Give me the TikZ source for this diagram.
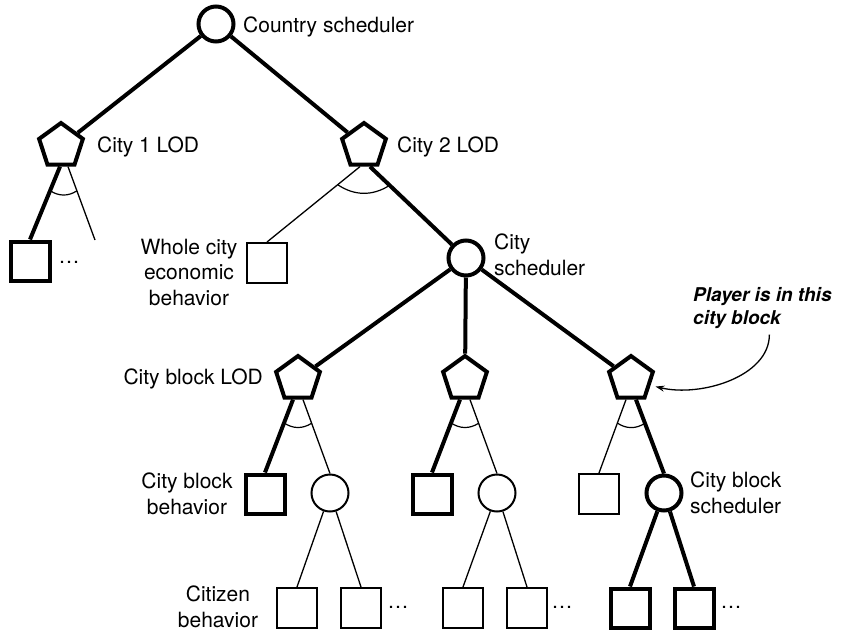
\documentclass[tikz,border=0pt]{standalone}
\usepackage{fontspec}
\setmainfont{TeX Gyre Heros}
\usetikzlibrary{shapes.geometric,arrows.meta,calc}
\begin{document}
\begin{tikzpicture}[x=1pt,y=-1pt,
  thickl/.style={line width=4pt},
  thinl/.style={line width=1.3pt},
  arcl/.style={line width=1.2pt},
  pent/.style={draw,line width=4pt,regular polygon,regular polygon sides=5,minimum size=46pt,inner sep=0pt},
  circ/.style={draw,circle,line width=4pt,minimum size=35pt,inner sep=0pt},
  circthin/.style={draw,circle,line width=2pt,minimum size=37pt,inner sep=0pt},
  sq/.style={draw,rectangle,line width=4pt,minimum size=39pt,inner sep=0pt},
  sqthin/.style={draw,rectangle,line width=2pt,minimum size=40pt,inner sep=0pt},
  lbl/.style={font=\fontsize{21}{25.5}\selectfont,inner sep=0pt,align=center},
  dotsl/.style={font=\fontsize{21}{25}\selectfont,inner sep=0pt},
  note/.style={font=\fontsize{19}{23}\selectfont\bfseries\itshape,inner sep=0pt,align=left},
]
\useasboundingbox (0,0) rectangle (855,633);

% nodes
\node[circ] (cs) at (216,24) {};
\node[pent] (c1) at (61,146) {};
\node[pent] (c2) at (364,146) {};
\node[sq] (s1) at (30,261) {};
\coordinate (f1) at (95,240);
\node[sqthin] (wc) at (267,263) {};
\node[circ] (sch) at (466,258) {};
\node[pent] (b1) at (298,379) {};
\node[pent] (b2) at (465,379) {};
\node[pent] (b3) at (631,379) {};
\node[sq] (q1) at (265,494) {};
\node[circthin] (o1) at (330,493) {};
\node[sq] (q2) at (432,494) {};
\node[circthin] (o2) at (497,493) {};
\node[sqthin] (q3) at (599,494) {};
\node[circ] (o3) at (664,493) {};
\node[sqthin] (r1) at (297,608) {};
\node[sqthin] (r2) at (361,608) {};
\node[sqthin] (r3) at (463,608) {};
\node[sqthin] (r4) at (527,608) {};
\node[sq] (r5) at (630,608) {};
\node[sq] (r6) at (694,608) {};

% labels
\node[lbl,anchor=west] (tcs) at (243,27) {Country scheduler};
\node[lbl,anchor=west] (tc1) at (97,147) {City 1 LOD};
\node[lbl,anchor=west] (tc2) at (397,147) {City 2 LOD};
\node[lbl] (twc) at (189,272) {Whole city\\economic\\behavior};
\node[lbl,anchor=west,align=left] (tsch) at (494,255) {City\\scheduler};
\node[lbl,anchor=east] (tb) at (263,379) {City block LOD};
\node[lbl] (tq1) at (187,494) {City block\\behavior};
\node[lbl,anchor=west,align=left] (to3) at (690,493) {City block\\scheduler};
\node[lbl] (tcz) at (218,607) {Citizen\\behavior};
\node[note,anchor=north west] (pl) at (693,287) {Player is in this\\city block};

% dots
\node[dotsl] (d1) at (69,262) {…};
\node[dotsl] (d2) at (398,607) {…};
\node[dotsl] (d3) at (562,607) {…};
\node[dotsl] (d4) at (731,607) {…};

% edges
\draw[thickl] (cs) -- (c1);
\draw[thickl] (cs) -- (c2);

\draw[thickl] ([xshift=-1pt]c1.south) -- coordinate[pos=0.33] (a1) (s1.north);
\draw[thinl] ([xshift=7pt]c1.south) -- coordinate[pos=0.33] (a2) (f1);
\draw[arcl] (a1) to[bend right=33] (a2);

\draw[thinl] ([xshift=-4pt]c2.south) -- coordinate[pos=0.24] (a3) (wc.north);
\draw[thickl] ([xshift=6pt]c2.south) -- coordinate[pos=0.24] (a4) (sch);
\draw[arcl] (a3) to[bend right=33] (a4);

\draw[thickl] (sch) -- (b1);
\draw[thickl] (sch) -- (b2);
\draw[thickl] (sch) -- (b3);

\draw[thickl] ([xshift=-5pt]b1.south) -- coordinate[pos=0.32] (a5) (q1.north);
\draw[thinl] ([xshift=5pt]b1.south) -- coordinate[pos=0.32] (a6) (o1.north);
\draw[arcl] (a5) to[bend right=33] (a6);

\draw[thickl] ([xshift=-5pt]b2.south) -- coordinate[pos=0.32] (a7) (q2.north);
\draw[thinl] ([xshift=5pt]b2.south) -- coordinate[pos=0.32] (a8) (o2.north);
\draw[arcl] (a7) to[bend right=33] (a8);

\draw[thinl] ([xshift=-5pt]b3.south) -- coordinate[pos=0.32] (a9) (q3.north);
\draw[thickl] ([xshift=5pt]b3.south) -- coordinate[pos=0.32] (a10) (o3.north);
\draw[arcl] (a9) to[bend right=33] (a10);

\draw[thinl] (o1) -- (r1.north);
\draw[thinl] (o1) -- (r2.north);
\draw[thinl] (o2) -- (r3.north);
\draw[thinl] (o2) -- (r4.north);
\draw[thickl] (o3) -- (r5.north);
\draw[thickl] (o3) -- (r6.north);

% annotation arrow
\draw[thinl,-{Stealth[length=9pt,width=6pt]},shorten >=5pt]
  ($(pl.south)+(7,6)$) .. controls +(0,42) and +(50,12) .. (b3.-18);
\end{tikzpicture}
\end{document}
